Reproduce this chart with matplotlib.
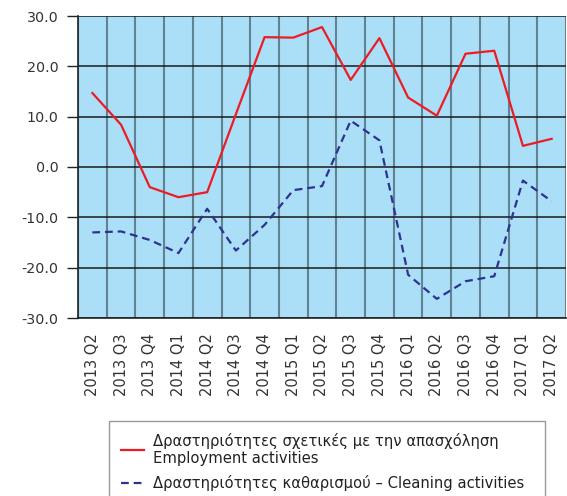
import matplotlib
matplotlib.use("Agg")
import matplotlib.pyplot as plt
import numpy as np

categories = ["2013 Q2", "2013 Q3", "2013 Q4", "2014 Q1", "2014 Q2", "2014 Q3", "2014 Q4",
              "2015 Q1", "2015 Q2", "2015 Q3", "2015 Q4", "2016 Q1", "2016 Q2", "2016 Q3",
              "2016 Q4", "2017 Q1", "2017 Q2"]
employment = [14.7, 8.4, -4.0, -6.0, -5.0, 10.5, 25.8, 25.7, 27.8, 17.3, 25.6, 13.8, 10.2,
              22.5, 23.1, 4.2, 5.6]
cleaning = [-13.0, -12.8, -14.5, -17.1, -8.3, -16.6, -11.5, -4.6, -3.8, 9.2, 5.3, -21.4,
            -26.2, -22.7, -21.7, -2.7, -6.8]
yticks = [30, 20, 10, 0, -10, -20, -30]
label_emp = "Δραστηριότητες σχετικές με την απασχόληση\nEmployment activities"
label_cln = "Δραστηριότητες καθαρισμού – Cleaning activities"

plt.rcParams['font.family'] = ['DejaVu Sans']

fig = plt.figure(figsize=(5.67, 4.96), dpi=100)
ax = fig.add_axes([78/567, 1-318/496, (566-78)/567, (318-16)/496])
ax.set_facecolor('#abdff8')

x = np.arange(len(categories))
l1, = ax.plot(x, employment, color='#ed1c24', lw=1.6, label=label_emp, zorder=3)
l2, = ax.plot(x, cleaning, color='#2e3192', lw=1.6, ls=(0, (3.5, 2.2)), label=label_cln, zorder=3)

ax.set_xlim(-0.5, len(categories) - 0.5)
ax.set_ylim(-30, 30)
ax.set_yticks(yticks)
ax.set_yticklabels([f"{v:.1f}" for v in yticks], fontsize=10.3, color='#333333')
ax.set_xticks(x)
ax.set_xticklabels(categories, rotation=90, fontsize=10.5, color='#333333')
ax.set_xticks(np.arange(-0.5, len(categories)), minor=True)
ax.tick_params(axis='x', which='major', length=0, pad=11)
ax.tick_params(axis='x', which='minor', length=0)
ax.tick_params(axis='y', which='major', length=8, width=1, pad=6, color='#222222')

ax.grid(axis='y', which='major', color='#1a1a1a', lw=1.1, zorder=1)
ax.grid(axis='x', which='minor', color='#4f6b78', lw=1.5, alpha=0.8, zorder=1)
ax.set_axisbelow(True)
for s in ['top', 'right']:
    ax.spines[s].set_visible(False)
for s in ['left', 'bottom']:
    ax.spines[s].set_color('#222222')
    ax.spines[s].set_linewidth(1.2)

leg = fig.legend(handles=[l1, l2], loc='upper left',
                 bbox_to_anchor=(109/567, 1-421/496, 436/567, 0), mode='expand',
                 fontsize=10.6, frameon=True, fancybox=False, edgecolor='#808080',
                 handlelength=1.6, handletextpad=0.6, labelspacing=0.6,
                 borderpad=0.8, borderaxespad=0)
leg.get_frame().set_linewidth(1.0)
for t in leg.get_texts():
    t.set_color('#222222')

fig.savefig("out.png", dpi=100)
